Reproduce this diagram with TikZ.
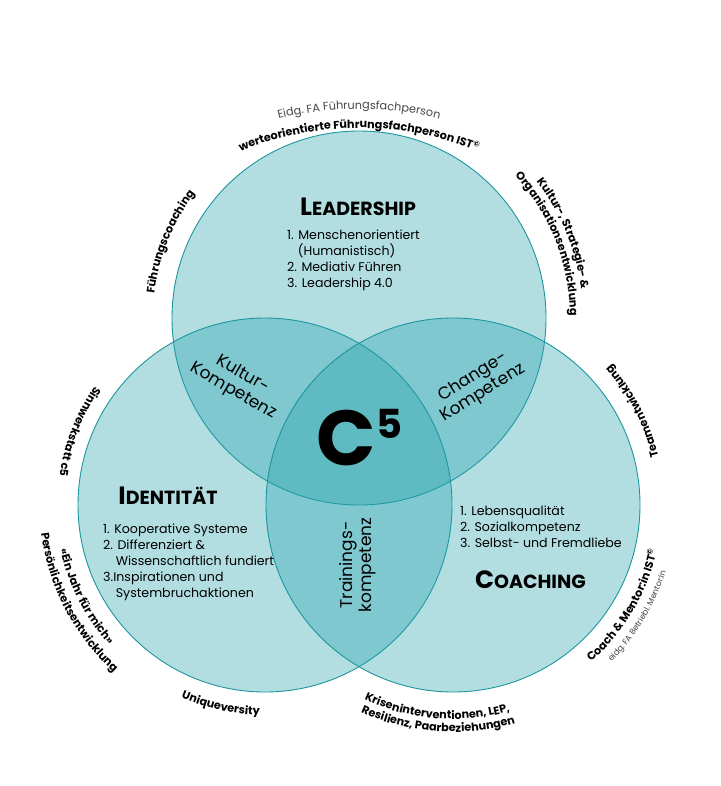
\documentclass[tikz,border=0pt]{standalone}
\usepackage{fontspec}
\setmainfont{Poppins}
\usetikzlibrary{decorations.text}
\definecolor{venn}{RGB}{35,161,172}
\definecolor{ring}{RGB}{28,150,158}
\definecolor{greytext}{RGB}{70,70,70}
\newcommand\outerlbl{\bfseries\fontsize{11.2}{12}\selectfont}
\newcommand\outergrey{\color{greytext}\fontsize{11.3}{12}\selectfont}
\newcommand\outersmall{\color{greytext}\fontsize{8.2}{9}\selectfont}
\begin{document}
\begin{tikzpicture}[x=1pt,y=-1pt,
  venncircle/.style={circle, minimum size=374pt, inner sep=0pt, fill=venn, fill opacity=0.35, draw=ring, line width=0.9pt},
  title/.style={font=\bfseries, inner sep=0pt, anchor=base},
  listbox/.style={font=\fontsize{12.6}{16}\selectfont, align=left, anchor=north west, inner sep=0pt},
  komp/.style={font=\fontsize{17}{19}\selectfont, align=center, inner sep=0pt},
  arclabel/.style={decorate, decoration={text along path, text align=center, text={#1}}}
]
\useasboundingbox (0,0) rectangle (720,786);
\fill[white] (0,0) rectangle (720,786);

% circles
\node[venncircle] (top) at (359,318) {};
\node[venncircle] (left) at (265,505) {};
\node[venncircle] (right) at (453,505) {};
\coordinate (arcc) at (359,440);

% titles
\node[title] (leadership) at (358,216) {\fontsize{25}{30}\selectfont L\fontsize{19}{22}\selectfont EADERSHIP};
\node[title] (identitaet) at (168,504) {\fontsize{25}{30}\selectfont I\fontsize{19}{22}\selectfont DENTITÄT};
\node[title] (coaching) at (530.5,588) {\fontsize{25}{30}\selectfont C\fontsize{19}{22}\selectfont OACHING};

% lists
\node[listbox] (llist) at (287,230) {1. Menschenorientiert\\\hspace*{0.85em}(Humanistisch)\\2. Mediativ Führen\\3. Leadership 4.0};
\node[listbox] (ilist) at (103,524) {1. Kooperative Systeme\\2. Differenziert \&\\\hspace*{1em}Wissenschaftlich fundiert\\3.Inspirationen und\\\hspace*{1em}Systembruchaktionen};
\node[listbox] (clist) at (460,506) {1. Lebensqualität\\2. Sozialkompetenz\\3. Selbst- und Fremdliebe};

% overlaps
\node[komp, rotate=-30] (kultur) at (238,383) {Kultur-\\Kompetenz};
\node[komp, rotate=32] (change) at (478,385) {Change-\\Kompetenz};
\node[komp, rotate=90] (training) at (358,565) {Trainings-\\kompetenz};
\node[inner sep=0pt, anchor=base, font=\bfseries] (c5) at (359.5,465) {\fontsize{78}{78}\selectfont C\raisebox{27pt}{\fontsize{40}{40}\selectfont 5}};

% outer curved labels
\path[shift={(arcc)}, arclabel={|\outergrey|Eidg. FA Führungsfachperson}] (-112:331) arc[start angle=-112, end angle=-68, radius=331];
\path[shift={(arcc)}, arclabel={|\outerlbl|werteorientierte Führungsfachperson IST{\textsuperscript{©}}}] (-116:312) arc[start angle=-116, end angle=-64, radius=312];
\path[shift={(top)}, arclabel={|\outerlbl|Führungscoaching}] (-190:206) arc[start angle=-190, end angle=-126, radius=206];
\path[shift={(top)}, arclabel={|\outerlbl|Kultur-, Strategie- {\&}}] (-55:224) arc[start angle=-55, end angle=10, radius=224];
\path[shift={(top)}, arclabel={|\outerlbl|Organisationsentwicklung}] (-62:211) arc[start angle=-62, end angle=19, radius=211];
\path[shift={(right)}, arclabel={|\outerlbl|Teamentwicklung}] (5:211) arc[start angle=5, end angle=-60, radius=211];
\path[shift={(left)}, arclabel={|\outerlbl|Sinnwerkstatt c5}] (-125:207.5) arc[start angle=-125, end angle=-192, radius=207.5];
\path[shift={(left)}, arclabel={|\outerlbl|«Ein Jahr für mich»}] (185:209.5) arc[start angle=185, end angle=121, radius=209.5];
\path[shift={(left)}, arclabel={|\outerlbl|Persönlichkeitsentwicklung}] (192:225.5) arc[start angle=192, end angle=113, radius=225.5];
\path[shift={(left)}, arclabel={|\outerlbl|Uniqueversity}] (130:210) arc[start angle=130, end angle=75, radius=210];
\path[shift={(right)}, arclabel={|\outerlbl|Kriseninterventionen, LEP,}] (137:214) arc[start angle=137, end angle=52, radius=214];
\path[shift={(right)}, arclabel={|\outerlbl|Resilienz, Paarbeziehungen}] (137:227) arc[start angle=137, end angle=51, radius=227];
\path[shift={(right)}, arclabel={|\outerlbl|Coach {\&} Mentor:in IST{\textsuperscript{©}}}] (72:209) arc[start angle=72, end angle=-11, radius=209];
\path[shift={(right)}, arclabel={|\outersmall|eidg. FA Betriebl. Mentor:in}] (65:223) arc[start angle=65, end angle=-3, radius=223];
\end{tikzpicture}
\end{document}
